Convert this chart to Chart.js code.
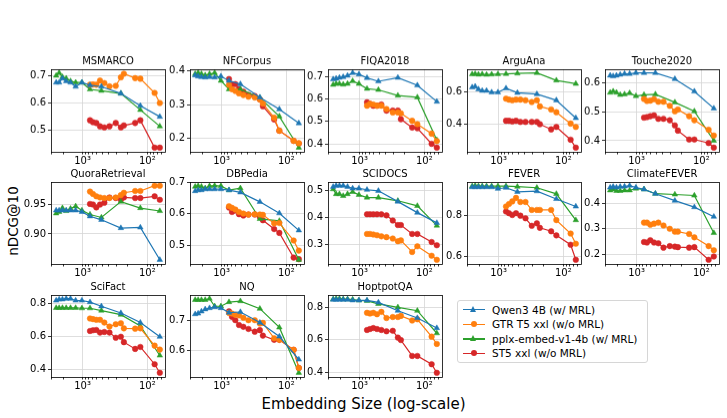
<!DOCTYPE html>
<html>
<head>
<meta charset="utf-8">
<script src="https://cdn.jsdelivr.net/npm/chart.js@4.4.1/dist/chart.umd.min.js"></script>
<style>
  body { margin: 0; background: #fff; }
  #fig { position: relative; width: 727px; height: 418px; overflow: hidden; font-family: 'DejaVu Sans', sans-serif; color: #000; }
  .panel { position: absolute; }
  #xlabel { position: absolute; left: 0; width: 727px; top: 395px; text-align: center; font-size: 15px; line-height: 18px; }
  #ylabel { position: absolute; left: 13px; top: 221px; font-size: 13.5px; line-height: 16px; white-space: nowrap; transform: translate(-50%, -50%) rotate(-90deg); }
  #legend { position: absolute; left: 457px; top: 300px; width: 191px; height: 63px; box-sizing: border-box; border: 1px solid #d6d6d6; border-radius: 3px; background: #fff; font-size: 10.5px; }
  .lrow { position: absolute; left: 0; height: 14px; line-height: 14px; white-space: nowrap; }
  .lline { position: absolute; left: 5px; top: 6.5px; width: 22px; height: 1.4px; }
  .ltxt { position: absolute; left: 34px; top: 0; }
</style>
</head>
<body>
<div id="fig">
  <div id="ylabel">nDCG@10</div>
  <div id="xlabel">Embedding Size (log-scale)</div>
  <div id="legend"></div>
</div>
<script>
// embedding sizes
var MRL_DIMS = [2560, 2304, 2048, 1792, 1536, 1280, 1024, 768, 512, 256, 128, 64];
var FULL_DIMS = [768, 691, 614, 538, 461, 384, 307, 256, 230, 154, 128, 77, 64];

var SERIES_NAMES = ['Qwen3 4B (w/ MRL)', 'GTR T5 xxl (w/o MRL)', 'pplx-embed-v1-4b (w/ MRL)', 'ST5 xxl (w/o MRL)'];

// nDCG@10 per dataset: qwen / gtr / pplx / st5
var MSMARCO_QWEN = [0.675, 0.675, 0.690, 0.680, 0.675, 0.660, 0.675, 0.665, 0.660, 0.635, 0.590, 0.550];
var MSMARCO_GTR  = [0.667, 0.668, 0.667, 0.682, 0.673, 0.661, 0.663, 0.694, 0.707, 0.691, 0.689, 0.637, 0.600];
var MSMARCO_PPLX = [0.700, 0.710, 0.695, 0.690, 0.680, 0.675, 0.675, 0.650, 0.645, 0.635, 0.575, 0.515];
var MSMARCO_ST5  = [0.537, 0.530, 0.527, 0.515, 0.511, 0.515, 0.527, 0.511, 0.518, 0.527, 0.537, 0.437, 0.437];
var MSMARCO_TICKS = [0.5, 0.6, 0.7];

var NFCORPUS_QWEN = [0.386, 0.383, 0.381, 0.380, 0.381, 0.380, 0.383, 0.370, 0.360, 0.321, 0.286, 0.245];
var NFCORPUS_GTR  = [0.358, 0.345, 0.340, 0.333, 0.328, 0.323, 0.321, 0.315, 0.303, 0.261, 0.223, 0.193, 0.186];
var NFCORPUS_PPLX = [0.390, 0.393, 0.390, 0.386, 0.390, 0.393, 0.370, 0.345, 0.345, 0.320, 0.265, 0.173];
var NFCORPUS_ST5  = [0.375, 0.360, 0.360, 0.345, 0.338, 0.328, 0.325, 0.315, 0.295, 0.256, 0.223, 0.193, 0.185];
var NFCORPUS_TICKS = [0.2, 0.3, 0.4];

var FIQA_QWEN = [0.687, 0.690, 0.694, 0.697, 0.703, 0.715, 0.709, 0.693, 0.678, 0.694, 0.660, 0.588];
var FIQA_GTR  = [0.570, 0.578, 0.575, 0.570, 0.570, 0.555, 0.540, 0.540, 0.536, 0.503, 0.488, 0.446, 0.413];
var FIQA_PPLX = [0.663, 0.667, 0.667, 0.664, 0.667, 0.679, 0.667, 0.645, 0.640, 0.615, 0.607, 0.418];
var FIQA_ST5  = [0.585, 0.578, 0.570, 0.570, 0.575, 0.548, 0.548, 0.548, 0.510, 0.473, 0.470, 0.401, 0.384];
var FIQA_TICKS = [0.4, 0.5, 0.6, 0.7];

var ARGUANA_QWEN = [0.627, 0.632, 0.615, 0.606, 0.606, 0.596, 0.596, 0.621, 0.593, 0.585, 0.547, 0.437];
var ARGUANA_GTR  = [0.557, 0.551, 0.547, 0.551, 0.551, 0.547, 0.536, 0.547, 0.509, 0.490, 0.473, 0.403, 0.382];
var ARGUANA_PPLX = [0.708, 0.710, 0.706, 0.708, 0.705, 0.707, 0.709, 0.710, 0.713, 0.716, 0.670, 0.649];
var ARGUANA_ST5  = [0.420, 0.420, 0.416, 0.420, 0.413, 0.413, 0.413, 0.413, 0.399, 0.367, 0.382, 0.303, 0.254];
var ARGUANA_TICKS = [0.4, 0.6];

var TOUCHE_QWEN = [0.626, 0.624, 0.626, 0.629, 0.632, 0.632, 0.635, 0.635, 0.635, 0.614, 0.571, 0.512];
var TOUCHE_GTR  = [0.545, 0.538, 0.539, 0.544, 0.535, 0.535, 0.521, 0.502, 0.508, 0.485, 0.471, 0.438, 0.418];
var TOUCHE_PPLX = [0.567, 0.571, 0.567, 0.559, 0.561, 0.565, 0.555, 0.559, 0.561, 0.533, 0.502, 0.400];
var TOUCHE_ST5  = [0.480, 0.482, 0.485, 0.488, 0.476, 0.476, 0.471, 0.453, 0.435, 0.404, 0.404, 0.392, 0.376];
var TOUCHE_TICKS = [0.4, 0.5, 0.6];

var QUORA_QWEN = [0.940, 0.940, 0.940, 0.940, 0.940, 0.940, 0.9375, 0.930, 0.924, 0.910, 0.911, 0.856];
var QUORA_GTR  = [0.972, 0.968, 0.964, 0.962, 0.961, 0.961, 0.962, 0.966, 0.970, 0.973, 0.973, 0.982, 0.982];
var QUORA_PPLX = [0.935, 0.9375, 0.944, 0.939, 0.943, 0.947, 0.940, 0.933, 0.928, 0.955, 0.944, 0.939];
var QUORA_ST5  = [0.951, 0.950, 0.945, 0.950, 0.953, 0.962, 0.961, 0.958, 0.962, 0.961, 0.961, 0.964, 0.958];
var QUORA_TICKS = [0.90, 0.95];

var DBPEDIA_QWEN = [0.672, 0.675, 0.675, 0.678, 0.678, 0.678, 0.678, 0.675, 0.668, 0.638, 0.602, 0.548];
var DBPEDIA_GTR  = [0.624, 0.619, 0.614, 0.606, 0.601, 0.598, 0.599, 0.598, 0.597, 0.570, 0.571, 0.516, 0.484];
var DBPEDIA_PPLX = [0.686, 0.688, 0.686, 0.681, 0.688, 0.689, 0.688, 0.675, 0.681, 0.584, 0.578, 0.455];
var DBPEDIA_ST5  = [0.620, 0.606, 0.611, 0.599, 0.595, 0.598, 0.598, 0.590, 0.580, 0.552, 0.540, 0.462, 0.457];
var DBPEDIA_TICKS = [0.5, 0.6, 0.7];

var SCIDOCS_QWEN = [0.515, 0.519, 0.519, 0.519, 0.515, 0.509, 0.509, 0.504, 0.500, 0.460, 0.419, 0.381];
var SCIDOCS_GTR  = [0.340, 0.340, 0.338, 0.335, 0.331, 0.328, 0.323, 0.313, 0.316, 0.273, 0.294, 0.259, 0.244];
var SCIDOCS_PPLX = [0.506, 0.488, 0.488, 0.481, 0.488, 0.496, 0.485, 0.475, 0.475, 0.463, 0.444, 0.371];
var SCIDOCS_ST5  = [0.413, 0.413, 0.413, 0.413, 0.413, 0.409, 0.390, 0.373, 0.373, 0.340, 0.340, 0.310, 0.298];
var SCIDOCS_TICKS = [0.3, 0.4, 0.5];

var FEVER_QWEN = [0.940, 0.940, 0.940, 0.940, 0.940, 0.940, 0.932, 0.937, 0.917, 0.920, 0.882, 0.845];
var FEVER_GTR  = [0.845, 0.857, 0.870, 0.887, 0.867, 0.867, 0.828, 0.828, 0.828, 0.828, 0.778, 0.712, 0.662];
var FEVER_PPLX = [0.945, 0.947, 0.945, 0.945, 0.945, 0.945, 0.945, 0.945, 0.942, 0.937, 0.907, 0.778];
var FEVER_ST5  = [0.820, 0.812, 0.803, 0.812, 0.800, 0.787, 0.750, 0.762, 0.740, 0.723, 0.703, 0.657, 0.583];
var FEVER_TICKS = [0.6, 0.8];

var CLIMATE_QWEN = [0.460, 0.463, 0.460, 0.463, 0.464, 0.467, 0.460, 0.453, 0.436, 0.409, 0.384, 0.347];
var CLIMATE_GTR  = [0.324, 0.324, 0.316, 0.320, 0.324, 0.313, 0.300, 0.289, 0.289, 0.280, 0.267, 0.233, 0.217];
var CLIMATE_PPLX = [0.449, 0.453, 0.447, 0.447, 0.449, 0.449, 0.456, 0.453, 0.436, 0.433, 0.429, 0.284];
var CLIMATE_ST5  = [0.249, 0.247, 0.256, 0.247, 0.244, 0.227, 0.233, 0.231, 0.229, 0.227, 0.229, 0.180, 0.193];
var CLIMATE_TICKS = [0.2, 0.3, 0.4];

var SCIFACT_QWEN = [0.816, 0.823, 0.823, 0.827, 0.827, 0.816, 0.816, 0.806, 0.781, 0.740, 0.682, 0.596];
var SCIFACT_GTR  = [0.707, 0.703, 0.699, 0.699, 0.682, 0.658, 0.672, 0.678, 0.647, 0.645, 0.647, 0.542, 0.518];
var SCIFACT_PPLX = [0.771, 0.771, 0.771, 0.771, 0.771, 0.771, 0.769, 0.769, 0.755, 0.730, 0.662, 0.482];
var SCIFACT_ST5  = [0.631, 0.635, 0.637, 0.621, 0.625, 0.621, 0.590, 0.596, 0.563, 0.522, 0.534, 0.429, 0.377];
var SCIFACT_TICKS = [0.4, 0.6, 0.8];

var NQ_QWEN = [0.720, 0.722, 0.729, 0.736, 0.740, 0.743, 0.740, 0.725, 0.727, 0.692, 0.646, 0.570];
var NQ_GTR  = [0.724, 0.722, 0.718, 0.716, 0.708, 0.700, 0.700, 0.689, 0.691, 0.640, 0.635, 0.602, 0.542];
var NQ_PPLX = [0.767, 0.767, 0.767, 0.767, 0.771, 0.746, 0.746, 0.760, 0.763, 0.738, 0.676, 0.526];
var NQ_ST5  = [0.729, 0.711, 0.700, 0.684, 0.678, 0.671, 0.662, 0.667, 0.649, 0.635, 0.635, 0.602, 0.542];
var NQ_TICKS = [0.6, 0.7];

var HOTPOT_QWEN = [0.847, 0.847, 0.847, 0.847, 0.847, 0.843, 0.843, 0.843, 0.830, 0.779, 0.734, 0.672];
var HOTPOT_GTR  = [0.766, 0.762, 0.766, 0.757, 0.772, 0.734, 0.740, 0.740, 0.747, 0.719, 0.726, 0.619, 0.574];
var HOTPOT_PPLX = [0.850, 0.853, 0.853, 0.850, 0.850, 0.848, 0.843, 0.840, 0.821, 0.800, 0.779, 0.640];
var HOTPOT_ST5  = [0.660, 0.666, 0.672, 0.666, 0.660, 0.652, 0.655, 0.613, 0.598, 0.500, 0.500, 0.449, 0.396];
var HOTPOT_TICKS = [0.4, 0.6, 0.8];

(function () {
  'use strict';

  var FONT = "'DejaVu Sans', sans-serif";
  var GRID = '#d6d6d6';

  // matplotlib tab10
  var C = { blue: '#1f77b4', orange: '#ff7f0e', green: '#2ca02c', red: '#d62728' };

  var STYLE = [
    { color: C.blue, marker: 'triangle', dims: MRL_DIMS },
    { color: C.orange, marker: 'circle', dims: FULL_DIMS },
    { color: C.green, marker: 'triangle', dims: MRL_DIMS },
    { color: C.red, marker: 'circle', dims: FULL_DIMS }
  ];

  var PANELS = [
    { title: 'MSMARCO', s: [MSMARCO_QWEN, MSMARCO_GTR, MSMARCO_PPLX, MSMARCO_ST5], ticks: MSMARCO_TICKS },
    { title: 'NFCorpus', s: [NFCORPUS_QWEN, NFCORPUS_GTR, NFCORPUS_PPLX, NFCORPUS_ST5], ticks: NFCORPUS_TICKS },
    { title: 'FIQA2018', s: [FIQA_QWEN, FIQA_GTR, FIQA_PPLX, FIQA_ST5], ticks: FIQA_TICKS },
    { title: 'ArguAna', s: [ARGUANA_QWEN, ARGUANA_GTR, ARGUANA_PPLX, ARGUANA_ST5], ticks: ARGUANA_TICKS },
    { title: 'Touche2020', s: [TOUCHE_QWEN, TOUCHE_GTR, TOUCHE_PPLX, TOUCHE_ST5], ticks: TOUCHE_TICKS },
    { title: 'QuoraRetrieval', s: [QUORA_QWEN, QUORA_GTR, QUORA_PPLX, QUORA_ST5], ticks: QUORA_TICKS },
    { title: 'DBPedia', s: [DBPEDIA_QWEN, DBPEDIA_GTR, DBPEDIA_PPLX, DBPEDIA_ST5], ticks: DBPEDIA_TICKS },
    { title: 'SCIDOCS', s: [SCIDOCS_QWEN, SCIDOCS_GTR, SCIDOCS_PPLX, SCIDOCS_ST5], ticks: SCIDOCS_TICKS },
    { title: 'FEVER', s: [FEVER_QWEN, FEVER_GTR, FEVER_PPLX, FEVER_ST5], ticks: FEVER_TICKS },
    { title: 'ClimateFEVER', s: [CLIMATE_QWEN, CLIMATE_GTR, CLIMATE_PPLX, CLIMATE_ST5], ticks: CLIMATE_TICKS },
    { title: 'SciFact', s: [SCIFACT_QWEN, SCIFACT_GTR, SCIFACT_PPLX, SCIFACT_ST5], ticks: SCIFACT_TICKS },
    { title: 'NQ', s: [NQ_QWEN, NQ_GTR, NQ_PPLX, NQ_ST5], ticks: NQ_TICKS },
    { title: 'HoptpotQA', s: [HOTPOT_QWEN, HOTPOT_GTR, HOTPOT_PPLX, HOTPOT_ST5], ticks: HOTPOT_TICKS }
  ];

  // grid geometry (plot area, px); an empty right axis balances the left one so titles centre on the plot
  var COL_X = [51, 189.5, 328, 466.5, 605];
  var ROW_Y = [69, 181.8, 294.6];
  var PLOT_W = 114, PLOT_H = 81.5;
  var YAXIS_W = 36, XAXIS_H = 18, TITLE_H = 22;

  // log x range with 5% margins like matplotlib
  var lo = Math.log10(Math.min.apply(null, MRL_DIMS));
  var hi = Math.log10(Math.max.apply(null, MRL_DIMS));
  var xpad = 0.05 * (hi - lo);
  var X_MIN = Math.pow(10, lo - xpad), X_MAX = Math.pow(10, hi + xpad);
  var X_TICKS = [3000, 2000, 1000, 900, 800, 700, 600, 500, 400, 300, 200, 100, 90, 80, 70, 60];

  function isMajor(v) { return v === 1000 || v === 100; }

  var framePlugin = {
    id: 'frame',
    afterDraw: function (chart) {
      var a = chart.chartArea, ctx = chart.ctx;
      ctx.save();
      ctx.strokeStyle = '#000';
      ctx.lineWidth = 0.8;
      ctx.strokeRect(Math.round(a.left) + 0.5, Math.round(a.top) + 0.5, Math.round(a.right - a.left), Math.round(a.bottom - a.top));
      ctx.restore();
    }
  };

  var fig = document.getElementById('fig');

  PANELS.forEach(function (p, i) {
    var L = COL_X[i % 5], T = ROW_Y[Math.floor(i / 5)];
    var div = document.createElement('div');
    div.className = 'panel';
    div.style.left = (L - YAXIS_W) + 'px';
    div.style.top = (T - TITLE_H) + 'px';
    div.style.width = (YAXIS_W + PLOT_W + YAXIS_W) + 'px';
    div.style.height = (TITLE_H + PLOT_H + XAXIS_H) + 'px';
    var canvas = document.createElement('canvas');
    div.appendChild(canvas);
    fig.appendChild(div);

    var all = [].concat.apply([], p.s);
    var ymin = Math.min.apply(null, all), ymax = Math.max.apply(null, all);
    var ypad = 0.05 * (ymax - ymin);
    var dec = p.ticks.some(function (v) { return Math.round(v * 100) % 10 !== 0; }) ? 2 : 1;

    var datasets = p.s.map(function (vals, k) {
      var st = STYLE[k];
      return {
        label: SERIES_NAMES[k],
        data: vals.map(function (v, j) { return { x: st.dims[j], y: v }; }),
        borderColor: st.color,
        backgroundColor: st.color,
        pointBackgroundColor: st.color,
        pointBorderColor: st.color,
        pointStyle: st.marker,
        pointRadius: st.marker === 'triangle' ? 3.2 : 2.8,
        pointBorderWidth: 0.5,
        borderWidth: 1.2,
        tension: 0
      };
    });

    new Chart(canvas, {
      type: 'line',
      data: { datasets: datasets },
      plugins: [framePlugin],
      options: {
        animation: false,
        responsive: true,
        maintainAspectRatio: false,
        layout: { padding: 0 },
        plugins: {
          legend: { display: false },
          tooltip: { enabled: false },
          title: {
            display: true,
            text: p.title,
            color: '#000',
            font: { family: FONT, size: 10, weight: 'normal' },
            padding: { top: 8, bottom: 2 }
          }
        },
        scales: {
          x: {
            type: 'logarithmic',
            reverse: true,
            min: X_MIN,
            max: X_MAX,
            afterBuildTicks: function (s) {
              s.ticks = X_TICKS.map(function (v) { return { value: v, major: isMajor(v) }; });
            },
            afterFit: function (s) { s.height = XAXIS_H; },
            border: { display: false },
            grid: {
              color: function (ctx) { return ctx.tick && isMajor(ctx.tick.value) ? GRID : 'rgba(0,0,0,0)'; },
              lineWidth: 0.8,
              tickColor: '#000',
              tickLength: 3
            },
            ticks: {
              autoSkip: false,
              maxRotation: 0,
              padding: 1,
              color: '#000',
              font: { family: FONT, size: 10 },
              callback: function (v) { return v === 1000 ? '10³' : (v === 100 ? '10²' : ''); }
            }
          },
          y: {
            position: 'left',
            min: ymin - ypad,
            max: ymax + ypad,
            afterBuildTicks: function (s) {
              s.ticks = p.ticks.map(function (v) { return { value: v }; });
            },
            afterFit: function (s) { s.width = YAXIS_W; },
            border: { display: false },
            grid: { color: GRID, lineWidth: 0.8, tickColor: '#000', tickLength: 3 },
            ticks: {
              padding: 2,
              color: '#000',
              font: { family: FONT, size: 10 },
              callback: function (v) { return Number(v).toFixed(dec); }
            }
          },
          yRight: {
            position: 'right',
            min: 0,
            max: 1,
            afterFit: function (s) { s.width = YAXIS_W; },
            border: { display: false },
            grid: { display: false, drawTicks: false },
            ticks: { display: false }
          }
        }
      }
    });
  });

  // legend
  var legend = document.getElementById('legend');
  SERIES_NAMES.forEach(function (name, k) {
    var st = STYLE[k];
    var row = document.createElement('div');
    row.className = 'lrow';
    row.style.top = (1.5 + k * 14.6) + 'px';
    var line = document.createElement('div');
    line.className = 'lline';
    line.style.background = st.color;
    row.appendChild(line);
    var m = document.createElement('div');
    m.style.position = 'absolute';
    if (st.marker === 'circle') {
      m.style.left = '13px'; m.style.top = '4px';
      m.style.width = '6px'; m.style.height = '6px';
      m.style.borderRadius = '50%';
      m.style.background = st.color;
    } else {
      m.style.left = '12.4px'; m.style.top = '3.5px';
      m.style.width = '0'; m.style.height = '0';
      m.style.borderLeft = '3.6px solid transparent';
      m.style.borderRight = '3.6px solid transparent';
      m.style.borderBottom = '6px solid ' + st.color;
    }
    row.appendChild(m);
    var t = document.createElement('div');
    t.className = 'ltxt';
    t.textContent = name;
    row.appendChild(t);
    legend.appendChild(row);
  });
})();
</script>
</body>
</html>
